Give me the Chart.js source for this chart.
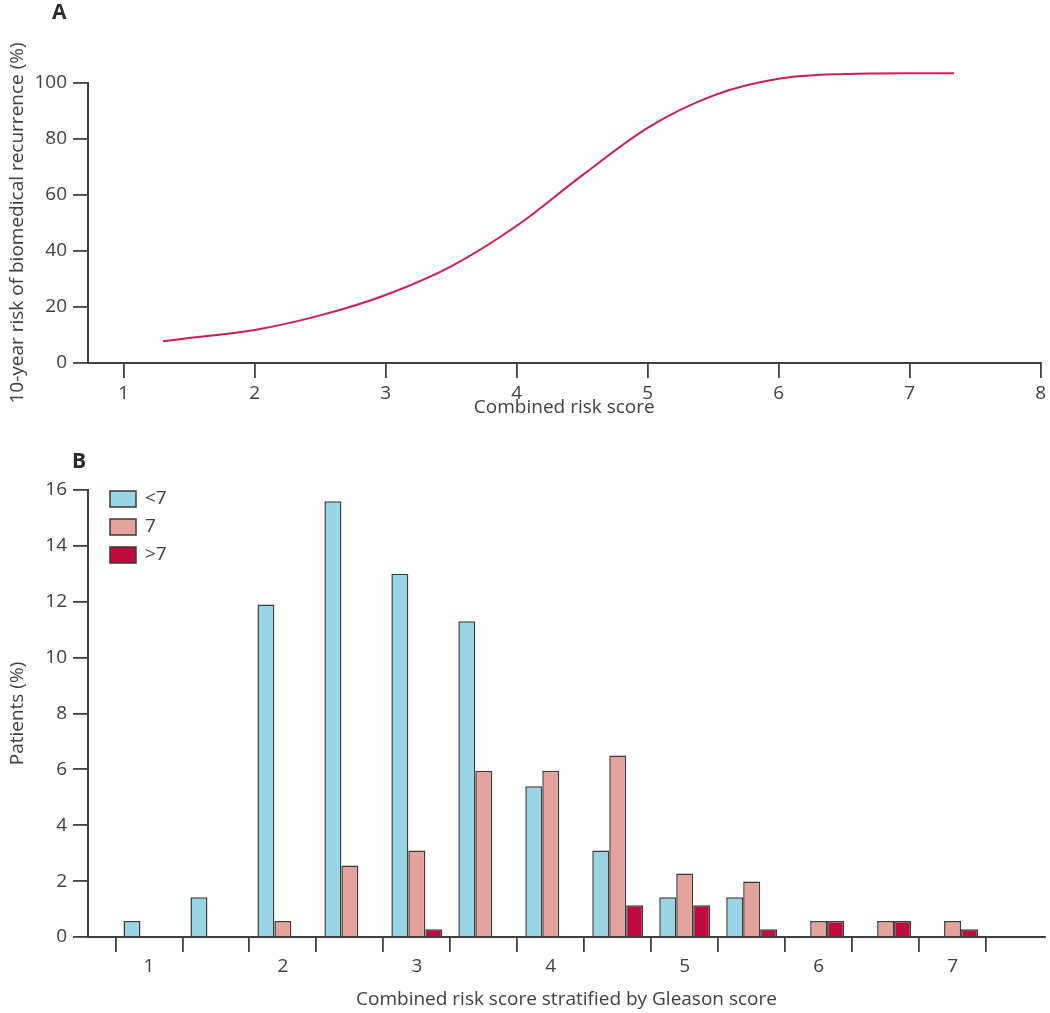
<!DOCTYPE html>
<html>
<head>
<meta charset="utf-8">
<script src="https://cdn.jsdelivr.net/npm/chart.js@4.4.1/dist/chart.umd.min.js"></script>
<style>
  html, body { margin: 0; padding: 0; background: #fff; }
  body { width: 1050px; height: 1013px; position: relative; overflow: hidden; font-family: "Open Sans", sans-serif; }
  .panel { position: absolute; left: 0; width: 1050px; }
  #panelA { top: 0; height: 420px; }
  #panelB { top: 420px; height: 593px; }
  .tag { position: absolute; font-weight: bold; font-size: 21px; line-height: 1; color: #2b2b2b; }
</style>
</head>
<body>
<div class="panel" id="panelA"><canvas id="riskChart"></canvas></div>
<div class="panel" id="panelB"><canvas id="gleasonChart"></canvas></div>
<div class="tag" style="left:52px; top:1px;">A</div>
<div class="tag" style="left:72px; top:450px;">B</div>
<script>
// Panel A: 10-year risk curve
const riskScore = [1.3, 1.5, 2, 2.5, 3, 3.5, 4, 4.5, 5, 5.5, 6, 6.5, 7, 7.34];
const riskPct   = [7.8, 8.9, 11.8, 17, 24.3, 34.5, 49, 67, 84, 95.5, 101.5, 103.2, 103.5, 103.5];
const riskTicksX = [1, 2, 3, 4, 5, 6, 7, 8];
const riskTicksY = [0, 20, 40, 60, 80, 100];

// Panel B: patients by combined risk score, stratified by Gleason score
const scoreBins   = [1, 1.5, 2, 2.5, 3, 3.5, 4, 4.5, 5, 5.5, 6, 6.5, 7];
const gleasonLow  = [0.57, 1.42, 11.9, 15.6, 13.0, 11.3, 5.4, 3.1, 1.42, 1.42, null, null, null];
const gleasonMid  = [null, null, 0.57, 2.56, 3.1, 5.95, 5.95, 6.5, 2.27, 1.99, 0.57, 0.57, 0.57];
const gleasonHigh = [null, null, null, null, 0.28, null, null, 1.14, 1.14, 0.28, 0.57, 0.57, 0.28];
const binTicks = [1, 1.5, 2, 2.5, 3, 3.5, 4, 4.5, 5, 5.5, 6, 6.5, 7, 7.5];
const patientTicks = [0, 2, 4, 6, 8, 10, 12, 14, 16];

const ink = '#404040';
const tickFont = { family: '"Open Sans", sans-serif', size: 19 };
const titleFont = { family: '"Open Sans", sans-serif', size: 19 };

Chart.defaults.color = ink;
Chart.defaults.animation = false;

// common axis look: only outer tick marks, no grid in plot
function axis(extra) {
  return Object.assign({
    type: 'linear',
    grid: { drawOnChartArea: false, drawTicks: true, tickLength: 15, color: ink, lineWidth: 1.8 },
    border: { display: true, color: ink, width: 2 },
  }, extra);
}

new Chart(document.getElementById('riskChart'), {
  type: 'line',
  data: {
    datasets: [{
      data: riskScore.map((x, i) => ({ x: x, y: riskPct[i] })),
      borderColor: '#cc1f55',
      borderWidth: 2,
      pointRadius: 0,
      fill: false,
      cubicInterpolationMode: 'monotone',
      clip: false
    }]
  },
  options: {
    responsive: true,
    maintainAspectRatio: false,
    layout: { padding: { top: 83, right: 5, bottom: 0, left: 0 } },
    plugins: { legend: { display: false }, tooltip: { enabled: false } },
    scales: {
      x: axis({
        min: 0.727, max: 8,
        afterBuildTicks: s => { s.ticks = riskTicksX.map(v => ({ value: v })); },
        afterFit: s => { s.height = 57; },
        ticks: { font: tickFont, padding: 4 },
        title: { display: true, text: 'Combined risk score', font: titleFont, padding: { top: 0, bottom: 1 } }
      }),
      y: axis({
        min: 0, max: 100,
        afterBuildTicks: s => { s.ticks = riskTicksY.map(v => ({ value: v })); },
        afterFit: s => { s.width = 88; },
        ticks: { font: tickFont, padding: 6 },
        title: { display: true, text: '10-year risk of biomedical recurrence (%)', font: titleFont, padding: { top: 6, bottom: 0 } }
      })
    }
  }
});

// legend drawn inside the plot, top-left
const boxLegend = {
  id: 'boxLegend',
  afterDraw(chart, args, opts) {
    const ctx = chart.ctx;
    ctx.save();
    chart.data.datasets.forEach((ds, i) => {
      const y = opts.top + i * opts.step;
      ctx.fillStyle = ds.backgroundColor;
      ctx.fillRect(opts.left, y, 26, 16);
      ctx.strokeStyle = ds.borderColor;
      ctx.lineWidth = 1.5;
      ctx.strokeRect(opts.left, y, 26, 16);
      ctx.fillStyle = ink;
      ctx.font = '19px "Open Sans", sans-serif';
      ctx.textBaseline = 'middle';
      ctx.fillText(ds.label, opts.left + 35, y + 8);
    });
    ctx.restore();
  }
};

const barStyle = { borderColor: '#3a3a3a', borderWidth: 1.5, barPercentage: 1, categoryPercentage: 0.76 };

new Chart(document.getElementById('gleasonChart'), {
  type: 'bar',
  data: {
    datasets: [
      Object.assign({ label: '<7', data: scoreBins.map((x, i) => ({ x: x, y: gleasonLow[i] })), backgroundColor: '#98d4e4' }, barStyle),
      Object.assign({ label: '7', data: scoreBins.map((x, i) => ({ x: x, y: gleasonMid[i] })), backgroundColor: '#e3a39c' }, barStyle),
      Object.assign({ label: '>7', data: scoreBins.map((x, i) => ({ x: x, y: gleasonHigh[i] })), backgroundColor: '#c00c3c' }, barStyle)
    ]
  },
  plugins: [boxLegend],
  options: {
    responsive: true,
    maintainAspectRatio: false,
    layout: { padding: { top: 70, right: 5, bottom: 0, left: 0 } },
    plugins: {
      legend: { display: false },
      tooltip: { enabled: false },
      boxLegend: { left: 110, top: 71, step: 28 }
    },
    scales: {
      x: axis({
        min: 0.545, max: 7.69,
        offset: false,
        afterBuildTicks: s => { s.ticks = binTicks.map(v => ({ value: v })); },
        afterFit: s => { s.height = 76; },
        ticks: { font: tickFont, padding: 3, callback: v => Number.isInteger(v) ? String(v) : '' },
        title: { display: true, text: 'Combined risk score stratified by Gleason score', font: titleFont, padding: { top: 0, bottom: 2 } }
      }),
      y: axis({
        min: 0, max: 16,
        afterBuildTicks: s => { s.ticks = patientTicks.map(v => ({ value: v })); },
        afterFit: s => { s.width = 88; },
        ticks: { font: tickFont, padding: 6 },
        title: { display: true, text: 'Patients (%)', font: titleFont, padding: { top: 6, bottom: 0 } }
      })
    }
  }
});
</script>
</body>
</html>
